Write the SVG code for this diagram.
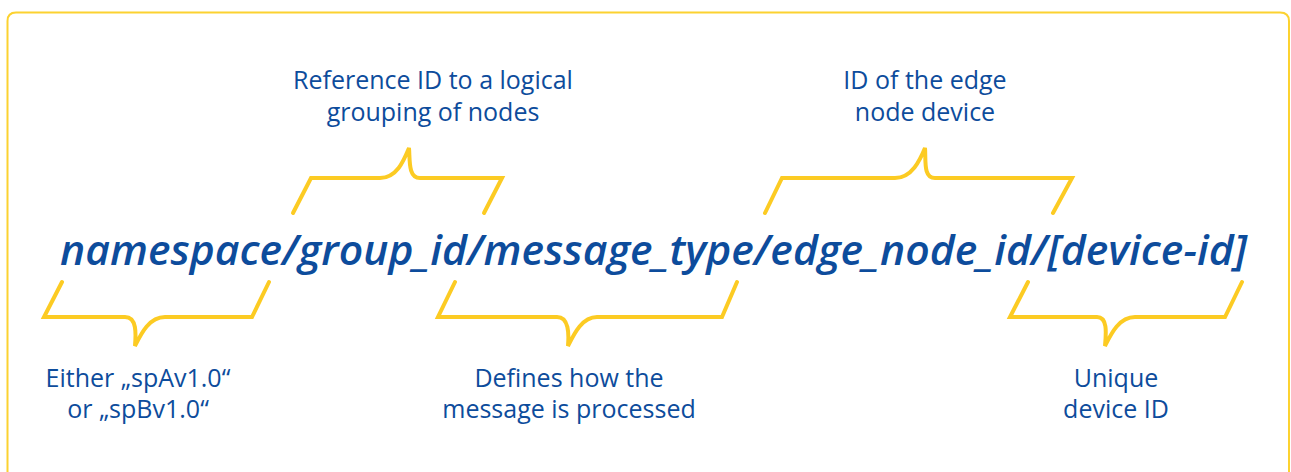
<svg xmlns="http://www.w3.org/2000/svg" width="1291" height="472" viewBox="0 0 1291 472">
<style>
.lbl{font-family:"Open Sans","Liberation Sans",sans-serif;font-size:25px;fill:#0d4c9c;text-anchor:middle}
.main{font-family:"Open Sans","Liberation Sans",sans-serif;font-size:42px;font-style:italic;font-weight:600;fill:#0d4c9c}
.brace{fill:none;stroke:#fccb23;stroke-width:4;stroke-linecap:round;stroke-linejoin:miter}
</style>
<rect width="1291" height="472" fill="#ffffff"/>
<path d="M7.5,480 V21 Q7.5,12.5 16,12.5 H1280 Q1289,12.5 1289,21 V480" fill="none" stroke="#fcd230" stroke-width="2"/>
<g id="topic">
<text class="main" x="60" y="265" textLength="1187" lengthAdjust="spacingAndGlyphs">namespace/group_id/message_type/edge_node_id/[device-id]</text>
</g>
<g id="connectors">
<path class="brace" d="M293,213 L311,178 H380 C397,178 404,160 409,148 C410,160 408,178 420,178 H502 L484,213"/>
<path class="brace" d="M765,213 L782,178 H895 C912,178 920,160 925,148 C926,160 923,178 935,178 H1072 L1053,213"/>
<path class="brace" d="M62,282 L44,317 H125 C137,317 136,334 135,346 C141,334 149,317 165,317 H252 L269,282"/>
<path class="brace" d="M455,282 L438,317 H557 C569,317 569,334 568,346 C574,334 582,317 597,317 H722 L737,282"/>
<path class="brace" d="M1028,282 L1010,317 H1097 C1108,317 1106,334 1105,346 C1111,334 1119,317 1135,317 H1225 L1242,282"/>
</g>
<g id="group-label">
<text class="lbl" x="433" y="89">Reference ID to a logical</text>
<text class="lbl" x="433" y="121">grouping of nodes</text>
</g>
<g id="edge-label">
<text class="lbl" x="925" y="89">ID of the edge</text>
<text class="lbl" x="925" y="121">node device</text>
</g>
<g id="namespace-label">
<text class="lbl" x="138" y="387">Either „spAv1.0“</text>
<text class="lbl" x="138" y="418">or „spBv1.0“</text>
</g>
<g id="type-label">
<text class="lbl" x="569" y="387">Defines how the</text>
<text class="lbl" x="569" y="418">message is processed</text>
</g>
<g id="device-label">
<text class="lbl" x="1116" y="387">Unique</text>
<text class="lbl" x="1116" y="418">device ID</text>
</g>
</svg>
